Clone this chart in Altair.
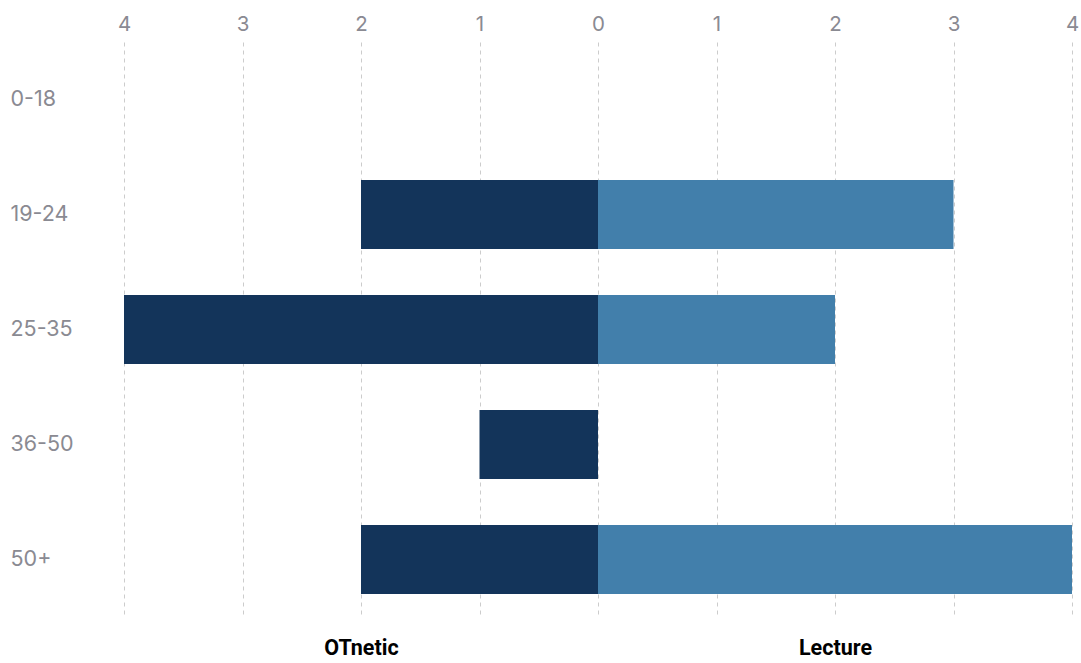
import altair as alt
import pandas as pd

ages = ["0-18", "19-24", "25-35", "36-50", "50+"]
otnetic = [0, 2, 4, 1, 2]
lecture = [0, 3, 2, 0, 4]
groups = ["OTnetic", "Lecture"]
colors = ["#13345a", "#427fab"]

rows = []
for a, o, l in zip(ages, otnetic, lecture):
    rows.append({"age": a, "group": "OTnetic", "value": -o})
    rows.append({"age": a, "group": "Lecture", "value": l})
df = pd.DataFrame(rows)

xscale = alt.Scale(domain=[-4, 4], nice=False, zero=False)
yscale = alt.Scale(domain=ages, paddingInner=0.4, paddingOuter=0.2)
yaxis = alt.Axis(title=None, domain=False, ticks=False, grid=False,
                 labelAlign="left", labelPadding=114,
                 labelFont="Inter", labelFontSize=21.5, labelColor="#8a8a92")

bars = alt.Chart(df).mark_bar().encode(
    x=alt.X("value:Q", scale=xscale,
            axis=alt.Axis(orient="top", values=[-4, -3, -2, -1, 0, 1, 2, 3, 4],
                          labelExpr="abs(datum.value)", title=None, domain=False,
                          ticks=False, grid=True, gridDash=[4, 4], gridColor="#cccccc",
                          labelFont="Inter", labelFontSize=20.5, labelColor="#8a8a92",
                          labelPadding=8, labelFlush=False)),
    y=alt.Y("age:N", scale=yscale, sort=ages, axis=yaxis),
    color=alt.Color("group:N", scale=alt.Scale(domain=groups, range=colors), legend=None),
)

bottom = alt.Chart(df).mark_bar(opacity=0).encode(
    x=alt.X("value:Q", scale=xscale,
            axis=alt.Axis(orient="bottom", values=[-2, 2],
                          labelExpr="datum.value < 0 ? 'OTnetic' : 'Lecture'",
                          title=None, domain=False, ticks=False, grid=False,
                          labelFont="Roboto", labelFontSize=21.5, labelFontWeight="bold",
                          labelColor="#000000", labelPadding=20)),
    y=alt.Y("age:N", scale=yscale, sort=ages, axis=yaxis),
)

chart = alt.layer(bars, bottom).resolve_axis(x="independent").properties(
    width=948, height=575,
    autosize=alt.AutoSizeParams(type="none"),
    padding={"left": 124, "top": 42, "right": 9, "bottom": 46},
).configure_view(stroke=None)

chart.save("out.html", embed_options={"renderer": "svg", "actions": False})
